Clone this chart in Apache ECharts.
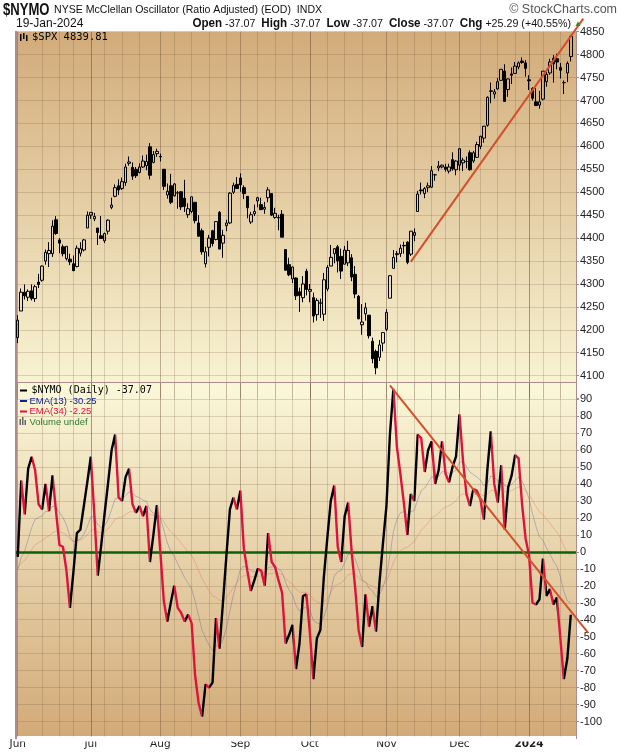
<!DOCTYPE html>
<html><head><meta charset="utf-8">
<script src="https://cdn.jsdelivr.net/npm/echarts@6/dist/echarts.min.js"></script>
<style>html,body{margin:0;padding:0;background:#fff}#c{width:620px;height:752px}</style>
</head><body><div id="c"></div>
<script>
// ---------------- DATA ----------------
const tradingDays = {
  '2023-06': [1,2,5,6,7,8,9,12,13,14,15,16,20,21,22,23,26,27,28,29,30],
  '2023-07': [3,5,6,7,10,11,12,13,14,17,18,19,20,21,24,25,26,27,28,31],
  '2023-08': [1,2,3,4,7,8,9,10,11,14,15,16,17,18,21,22,23,24,25,28,29,30,31],
  '2023-09': [1,5,6,7,8,11,12,13,14,15,18,19,20,21,22,25,26,27,28,29],
  '2023-10': [2,3,4,5,6,9,10,11,12,13,16,17,18,19,20,23,24,25,26,27,30,31],
  '2023-11': [1,2,3,6,7,8,9,10,13,14,15,16,17,20,21,22,24,27,28,29,30],
  '2023-12': [1,4,5,6,7,8,11,12,13,14,15,18,19,20,21,22,26,27,28,29],
  '2024-01': [2,3,4,5,8,9,10,11,12,16,17,18,19]
};
const spxOpen = [4183,4241,4282,4271,4285,4268,4304,4308,4350,4366,4366,4440,4396,4381,4355,4354,4344,4338,4367,4374,4422,
 4450,4442,4422,4405,4394,4415,4467,4491,4514,4508,4521,4563,4554,4550,4543,4555,4558,4599,4565,4584,
 4578,4550,4494,4514,4492,4498,4501,4487,4451,4458,4478,4433,4416,4344,4380,4416,4397,4456,4389,4427,4433,4500,4517,
 4531,4510,4491,4435,4453,4481,4473,4463,4488,4497,4445,4445,4452,4375,4342,4311,4313,4283,4270,4328,
 4284,4270,4233,4259,4234,4289,4339,4366,4381,4360,4343,4346,4357,4321,4273,4211,4235,4232,4175,4153,4140,4171,
 4201,4269,4334,4364,4366,4384,4391,4365,4406,4458,4505,4497,4510,4511,4538,4553,4555,4555,4546,4571,4549,
 4559,4564,4567,4586,4568,4576,4600,4618,4646,4721,4714,4725,4744,4764,4724,4758,4759,4773,4786,4782,
 4745,4726,4697,4690,4703,4741,4760,4792,4791,4772,4739,4760,4796];
const spxHigh = [4232,4290,4299,4288,4299,4298,4322,4340,4375,4391,4439,4448,4400,4386,4382,4366,4362,4384,4391,4398,4458,
 4456,4455,4422,4448,4412,4441,4488,4517,4528,4532,4562,4578,4565,4555,4563,4580,4582,4607,4590,4595,
 4584,4551,4519,4540,4520,4503,4502,4527,4476,4490,4478,4450,4421,4381,4407,4418,4437,4459,4418,4440,4500,4521,4533,
 4541,4515,4491,4457,4473,4490,4488,4479,4511,4497,4466,4451,4461,4376,4357,4338,4314,4292,4317,4333,
 4300,4281,4269,4268,4324,4341,4385,4378,4385,4377,4383,4394,4365,4339,4276,4256,4259,4232,4183,4157,4178,4195,
 4245,4319,4374,4372,4386,4392,4393,4415,4421,4503,4521,4511,4521,4557,4540,4568,4560,4562,4562,4587,4570,
 4595,4575,4578,4591,4590,4610,4623,4643,4709,4739,4725,4749,4768,4779,4748,4772,4784,4785,4794,4788,
 4755,4729,4727,4721,4764,4765,4791,4799,4802,4782,4744,4785,4842];
const spxLow = [4171,4241,4266,4263,4264,4261,4291,4305,4342,4337,4359,4407,4367,4360,4351,4341,4328,4336,4360,4371,4422,
 4442,4437,4385,4398,4389,4408,4463,4489,4494,4505,4514,4558,4527,4531,4541,4553,4548,4528,4563,4577,
 4567,4505,4486,4474,4491,4464,4461,4457,4444,4454,4432,4403,4364,4336,4360,4382,4395,4376,4357,4415,4431,4496,4507,
 4501,4485,4443,4431,4448,4467,4461,4453,4478,4448,4442,4417,4402,4329,4317,4302,4265,4239,4260,4275,
 4260,4216,4220,4226,4219,4284,4339,4345,4325,4311,4343,4339,4306,4269,4223,4189,4220,4181,4127,4103,4132,4153,
 4197,4269,4334,4347,4359,4366,4343,4361,4393,4458,4495,4487,4500,4510,4525,4546,4552,4545,4541,4547,4537,
 4547,4546,4552,4547,4564,4575,4594,4608,4643,4694,4704,4724,4743,4698,4708,4736,4758,4768,4780,4752,
 4723,4700,4688,4682,4700,4730,4756,4739,4768,4748,4714,4740,4785];
const spxClose = [4221,4282,4274,4284,4268,4294,4299,4339,4369,4373,4426,4410,4389,4366,4382,4348,4329,4378,4377,4396,4450,
 4456,4447,4412,4399,4410,4439,4472,4510,4505,4523,4555,4566,4535,4536,4555,4568,4567,4537,4582,4589,
 4577,4513,4502,4478,4518,4499,4468,4469,4464,4490,4438,4404,4370,4370,4400,4388,4436,4376,4406,4433,4498,4515,4508,
 4516,4497,4466,4451,4458,4488,4462,4467,4505,4450,4454,4444,4402,4330,4320,4337,4274,4275,4300,4288,
 4288,4230,4264,4258,4309,4336,4358,4377,4350,4328,4374,4373,4315,4278,4224,4217,4248,4187,4137,4117,4167,4194,
 4238,4318,4358,4366,4378,4383,4347,4415,4412,4496,4503,4508,4514,4547,4538,4557,4559,4550,4555,4551,4568,
 4595,4570,4567,4549,4586,4604,4622,4644,4707,4720,4719,4741,4768,4698,4747,4755,4775,4782,4783,4770,
 4743,4705,4689,4697,4764,4757,4784,4780,4784,4766,4739,4781,4840];
const nymo = [-3,42,22,49,56,48,28,25,40,24,45,24,4,3,-11,-33,-12,11,13,27,41,56,23,-14,4,23,41,60,69,32,
 30,44,49,28,23,27,21,27,-6,10,27.5,0,-29,-41,-30,-20,-33,-36,-41,-37,-42,-73,-89,-97,-78,-80,-77,-39,-57,-30,
 -2,25,32,25,36,2,-11,-23,-17,-10,-11,-20,11,-6,-9,-17,-24,-54,-49,-43,-69,-54,-26,-25,-48,-75,-51,-46,-15,8,
 30,39,3,-6,21,29,0,-21,-46,-56,-25,-44,-32,-47,-18,5,27,69,96,62,46,29,10,34,30,69,67,47,60,65,
 40,48,65,46,41,50,56,81,54,34,27,37,36,31,19,48,71,40,29,51,13,38,45,57,55,28,8,-2,-30,-31,
 -28,-4,-26,-22,-31,-27,-51,-75,-63,-37.07];
const ema13Start = -12;   // EMA values at the left edge
const ema34Start = -10;
const priceAxis = {min: 4050, max: 4850, step: 50, firstLabel: 4100};
const oscAxis = {min: -110, max: 100, step: 10};
const trendSPX = [[113, 4348], [159, 4840], 162.6];   // two anchors + index to extend to
const trendNYMO = [[107, 98], [159, -35], 164];
const monthNames = ['Jan','Feb','Mar','Apr','May','Jun','Jul','Aug','Sep','Oct','Nov','Dec'];

// ---------------- BUILD ----------------
const dates = [];
Object.keys(tradingDays).forEach(m => tradingDays[m].forEach(d => dates.push(m + '-' + String(d).padStart(2,'0'))));
const cats = dates.concat(['']);
const N = dates.length;
const isMonth = cats.map((d, i) => d !== '' && (i === 0 || d.slice(0,7) !== cats[i-1].slice(0,7)));
const monthIdx = [];
isMonth.forEach((v, i) => { if (v) monthIdx.push(i); });
const dow = d => new Date(d + 'T00:00:00Z').getUTCDay();
const isWeek = cats.map((d, i) => {
  if (d === '' || i === 0) return false;
  const newWeek = dow(d) <= dow(cats[i-1]) || (new Date(d) - new Date(cats[i-1])) > 4 * 864e5;
  if (!newWeek) return false;
  return !monthIdx.some(m => m !== i && Math.abs(m - i) <= 2) ;
});
function ema(src, n, seed) { const k = 2 / (n + 1); let e = seed; return src.map(v => { e = e + k * (v - e); return +e.toFixed(2); }); }
const ema13 = ema(nymo, 13, ema13Start);
const ema34 = ema(nymo, 34, ema34Start);
const candles = dates.map((d, i) => [spxOpen[i], spxClose[i], spxLow[i], spxHigh[i]]);
// direction pieces for NYMO colouring (black rising, red falling)
const up = k => nymo[k + 1] >= nymo[k];
const pieces = [];
let s = 0;
for (let k = 1; k < N - 1; k++) {
  if (up(k) !== up(s)) { pieces.push({gte: s, lt: k, color: up(s) ? '#000000' : '#dc143c'}); s = k; }
}
pieces.push({gte: s, lte: N - 1, color: up(s) ? '#000000' : '#dc143c'});

const FS = "'Liberation Sans', Arial, sans-serif";
const FV = "'DejaVu Sans', Verdana, sans-serif";
const FM = "'DejaVu Sans Mono', monospace";
const MAUVE = '#ad8c8c';
const GRID = 'rgba(110,80,60,0.22)';
const GRIDM = 'rgba(110,80,60,0.42)';

const chart = echarts.init(document.getElementById('c'));
const baseX = (grid, monthly, extra) => Object.assign({
  type: 'category', gridIndex: grid, data: cats, boundaryGap: true,
  axisLine: {show: false}, axisTick: {show: false}, axisLabel: {show: false},
  splitLine: {show: true, alignWithLabel: true, interval: (i) => monthly ? isMonth[i] : isWeek[i],
    lineStyle: {color: monthly ? GRIDM : GRID, width: 1}}
}, extra || {});

chart.setOption({
  animation: false,
  grid: [
    {left: 16, top: 31.7, width: 560, height: 366.9},
    {left: 16, top: 382, width: 560, height: 356.6}
  ],
  xAxis: [
    baseX(0, true),
    baseX(0, false),
    baseX(1, true, {
      offset: -3,
      axisLine: {show: true, lineStyle: {color: MAUVE, width: 1}},
      axisTick: {show: true, interval: 0, length: 2, lineStyle: {color: MAUVE}},
      axisLabel: {show: true, interval: (i) => isMonth[i], margin: 3, color: '#222', fontFamily: FV, fontSize: 10.5,
        formatter: (v) => { const m = +v.slice(5,7); return m === 1 ? '{y|' + v.slice(0,4) + '}' : monthNames[m-1]; },
        rich: {y: {fontWeight: 'bold', fontFamily: FV, fontSize: 10.5, color: '#222'}}}
    }),
    baseX(1, false, {position: 'top', axisLine: {show: true, onZero: false, lineStyle: {color: MAUVE, width: 1}}})
  ],
  yAxis: [
    {type: 'value', gridIndex: 0, position: 'right', min: priceAxis.min, max: priceAxis.max, interval: priceAxis.step,
      axisLine: {show: true, lineStyle: {color: MAUVE}}, axisTick: {show: true, length: 3, lineStyle: {color: MAUVE}},
      axisLabel: {margin: 4, color: '#222', fontFamily: FS, fontSize: 11, formatter: v => v < priceAxis.firstLabel ? '' : v},
      splitLine: {show: true, showMinLine: false, lineStyle: {color: GRID}}},
    {type: 'value', gridIndex: 0, position: 'left', min: priceAxis.min, max: priceAxis.max,
      axisLine: {show: true, lineStyle: {color: MAUVE, width: 2}}, axisTick: {show: false}, axisLabel: {show: false}, splitLine: {show: false}},
    {type: 'value', gridIndex: 1, position: 'right', min: oscAxis.min, max: oscAxis.max, interval: oscAxis.step,
      axisLine: {show: true, lineStyle: {color: MAUVE}}, axisTick: {show: true, length: 3, lineStyle: {color: MAUVE}},
      axisLabel: {margin: 4, color: '#222', fontFamily: FS, fontSize: 11, showMinLabel: false, showMaxLabel: false},
      splitLine: {show: true, showMinLine: false, showMaxLine: false, lineStyle: {color: GRID}}},
    {type: 'value', gridIndex: 1, position: 'left', min: oscAxis.min, max: oscAxis.max,
      axisLine: {show: true, lineStyle: {color: MAUVE, width: 2}}, axisTick: {show: false}, axisLabel: {show: false}, splitLine: {show: false}}
  ],
  visualMap: {type: 'piecewise', show: false, seriesIndex: 1, dimension: 0, pieces: pieces, outOfRange: {color: '#000'}},
  series: [
    {type: 'candlestick', xAxisIndex: 0, yAxisIndex: 0, data: candles, barWidth: 3, z: 5,
      itemStyle: {color: 'transparent', color0: '#000', borderColor: '#000', borderColor0: '#000', borderWidth: 1}},
    {type: 'line', xAxisIndex: 2, yAxisIndex: 2, data: nymo, symbol: 'none', z: 6,
      lineStyle: {width: 2.4}},
    {type: 'line', xAxisIndex: 2, yAxisIndex: 2, data: ema13, symbol: 'none', z: 3,
      lineStyle: {width: 1, color: 'rgba(95,95,160,0.38)'}, itemStyle: {color: 'rgba(95,95,160,0.38)'},
      markLine: {silent: true, symbol: 'none', label: {show: false},
        lineStyle: {color: '#0a650a', width: 2.6, type: 'solid'}, data: [{yAxis: 0}]}},
    {type: 'line', xAxisIndex: 2, yAxisIndex: 2, data: ema34, symbol: 'none', z: 3,
      lineStyle: {width: 1, color: 'rgba(225,110,90,0.38)'}, itemStyle: {color: 'rgba(225,110,90,0.38)'}}
  ]
});

function trendLine(id, seriesIndex, t) {
  const p1 = chart.convertToPixel({seriesIndex: seriesIndex}, t[0]);
  const p2 = chart.convertToPixel({seriesIndex: seriesIndex}, t[1]);
  const f = (t[2] - t[0][0]) / (t[1][0] - t[0][0]);
  return {type: 'line', id: id, z: 60, silent: true,
    shape: {x1: p1[0], y1: p1[1], x2: p1[0] + (p2[0] - p1[0]) * f, y2: p1[1] + (p2[1] - p1[1]) * f},
    style: {stroke: '#d4502c', lineWidth: 2}};
}
function txt(id, x, y, text, font, fill, align, extra) {
  return Object.assign({type: 'text', id: id, x: x, y: y, z: 70, silent: true,
    style: Object.assign({text: text, font: font, fill: fill, align: align || 'left', textAlign: align || 'left',
      verticalAlign: 'middle', textVerticalAlign: 'middle'}, (extra && extra.style) || {})},
    extra && extra.el ? extra.el : {});
}
const gTop = chart.convertToPixel({seriesIndex: 0}, [0, priceAxis.max]);
const sepY = chart.convertToPixel({seriesIndex: 1}, [0, oscAxis.max])[1];
const bottomY = sepY + 354;
const graphics = [
  {type: 'rect', id: 'bg1', z: -100, silent: true, shape: {x: 16, y: gTop[1], width: 560, height: sepY - gTop[1]},
    style: {fill: new echarts.graphic.LinearGradient(0, 0, 0, 1, [{offset: 0, color: '#d2ab7a'}, {offset: 1, color: '#f8f3d2'}])}},
  {type: 'rect', id: 'bg2', z: -100, silent: true, shape: {x: 16, y: sepY, width: 560, height: bottomY - sepY},
    style: {fill: new echarts.graphic.LinearGradient(0, 0, 0, 1, [{offset: 0, color: '#fbf8da'}, {offset: 1, color: '#d2aa78'}])}},
  {type: 'rect', id: 'mask', z: 1, silent: true, shape: {x: 17, y: bottomY + 0.5, width: 559, height: 5}, style: {fill: '#fff'}},
  trendLine('t1', 0, trendSPX),
  trendLine('t2', 1, trendNYMO),
  txt('h1', 3, 10.5, '$NYMO', 'bold 17px ' + FS, '#111', 'left', {el: {scaleX: 0.77}}),
  txt('h2', 54, 10, 'NYSE McClellan Oscillator (Ratio Adjusted) (EOD)  INDX', '11.5px ' + FS, '#111', 'left', {el: {scaleX: 0.92}}),
  txt('h3', 617, 10, '\u00a9 StockCharts.com', '12.5px ' + FS, '#555', 'right'),
  txt('h4', 16, 24, '19-Jan-2024', '12px ' + FS, '#111'),
  txt('h5', 571, 24, '{b|Open} -37.07  {b|High} -37.07  {b|Low} -37.07  {b|Close} -37.07  {b|Chg} +25.29 (+40.55%)',
      '11.5px ' + FS, '#111', 'right', {style: {rich: {b: {font: 'bold 12.5px ' + FS, fill: '#111'}}}, el: {scaleX: 0.93}}),
  txt('h6', 574, 24, '\u25b2', '8px ' + FS, '#2e8b2e'),
  // price legend
  {type: 'rect', id: 'ic1', z: 70, silent: true, shape: {x: 20, y: 34, width: 1.5, height: 7}, style: {fill: '#000'}},
  {type: 'rect', id: 'ic2', z: 70, silent: true, shape: {x: 23, y: 33, width: 1.5, height: 6}, style: {fill: '#000'}},
  {type: 'rect', id: 'ic3', z: 70, silent: true, shape: {x: 26, y: 35, width: 1.5, height: 6}, style: {fill: '#000'}},
  txt('l0', 32, 37.5, '$SPX 4839.81', '10.5px ' + FM, '#000'),
  // oscillator legend
  {type: 'rect', id: 'd1', z: 70, silent: true, shape: {x: 20, y: 389.5, width: 7, height: 2}, style: {fill: '#000'}},
  txt('l1', 31.5, 390.5, '$NYMO (Daily) -37.07', '10px ' + FM, '#000'),
  {type: 'rect', id: 'd2', z: 70, silent: true, shape: {x: 20, y: 400, width: 7, height: 2}, style: {fill: '#10208a'}},
  txt('l2', 29.5, 401, 'EMA(13) -30.25', '9.5px ' + FS, '#10208a'),
  {type: 'rect', id: 'd3', z: 70, silent: true, shape: {x: 20, y: 410.5, width: 7, height: 2}, style: {fill: '#e0103a'}},
  txt('l3', 29.5, 411.5, 'EMA(34) -2.25', '9.5px ' + FS, '#e0103a'),
  {type: 'rect', id: 'v1', z: 70, silent: true, shape: {x: 19.5, y: 419, width: 1.5, height: 6}, style: {fill: '#666'}},
  {type: 'rect', id: 'v2', z: 70, silent: true, shape: {x: 22, y: 417, width: 1.5, height: 8}, style: {fill: '#666'}},
  {type: 'rect', id: 'v3', z: 70, silent: true, shape: {x: 24.5, y: 420, width: 1.5, height: 5}, style: {fill: '#666'}},
  txt('l4', 29.5, 422, 'Volume undef', '9.5px ' + FS, '#2e7d32')
];
chart.setOption({graphic: graphics});
</script>
</body></html>
